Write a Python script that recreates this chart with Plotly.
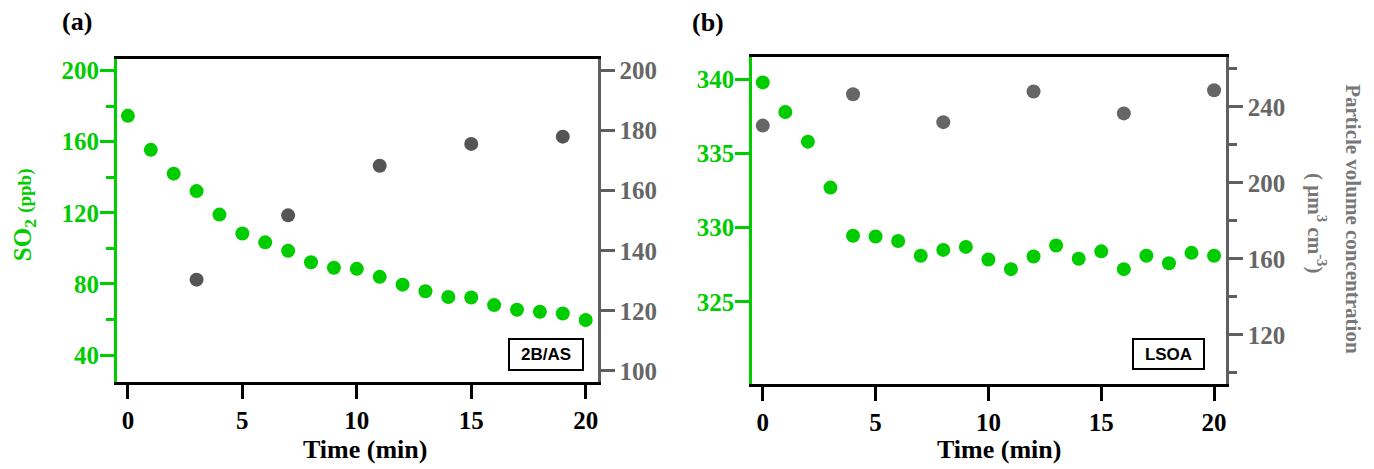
import plotly.graph_objects as go

# ---------------- data ----------------
time_a = list(range(21))
so2_a = [174.5, 155.4, 142.0, 132.2, 119.0, 108.4, 103.4, 98.7, 92.2, 89.1, 88.5,
         84.0, 79.6, 75.9, 72.7, 72.4, 68.1, 65.5, 64.4, 63.4, 59.7]
pv_time_a = [3, 7, 11, 15, 19]
pv_a = [130.4, 151.8, 168.3, 175.6, 178.0]

time_b = list(range(21))
so2_b = [339.8, 337.8, 335.8, 332.7, 329.45, 329.4, 329.1, 328.1, 328.5, 328.7, 327.85,
         327.2, 328.05, 328.8, 327.9, 328.4, 327.2, 328.1, 327.6, 328.3, 328.1]
pv_time_b = [0, 4, 8, 12, 16, 20]
pv_b = [230.1, 246.6, 231.9, 248.0, 236.5, 248.7]

x_ticks = [0, 5, 10, 15, 20]
left_ticks_a = [40, 80, 120, 160, 200]
right_ticks_a = [100, 120, 140, 160, 180, 200]
left_ticks_b = [325, 330, 335, 340]
right_ticks_b = [120, 160, 200, 240]

GREEN = "#00CC00"
GRAY_A = "#555555"
GRAY_B = "#666666"
AXGRAY = "#5f5f5f"
W, H = 1374, 469
OFF = 8  # page body margin
SERIF = "Liberation Serif"


def px(x):
    return (x - OFF) / W


def py(y):
    return (H - (y - OFF)) / H


def bold(vals):
    return ["<b>%s</b>" % v for v in vals]


fig = go.Figure()
fig.add_trace(go.Scatter(x=time_a, y=so2_a, mode="markers", xaxis="x", yaxis="y",
                         marker=dict(color=GREEN, size=14), showlegend=False))
fig.add_trace(go.Scatter(x=pv_time_a, y=pv_a, mode="markers", xaxis="x", yaxis="y2",
                         marker=dict(color=GRAY_A, size=14), showlegend=False))
fig.add_trace(go.Scatter(x=time_b, y=so2_b, mode="markers", xaxis="x2", yaxis="y3",
                         marker=dict(color=GREEN, size=14), showlegend=False))
fig.add_trace(go.Scatter(x=pv_time_b, y=pv_b, mode="markers", xaxis="x2", yaxis="y4",
                         marker=dict(color=GRAY_B, size=14), showlegend=False))

TS = 25
tickfont_black = dict(family=SERIF, size=TS, color="black")
tickfont_green = dict(family=SERIF, size=TS, color=GREEN)
tickfont_gray = dict(family=SERIF, size=TS, color="#666666")

xcommon = dict(showline=True, linecolor="black", linewidth=3, mirror=True,
               ticks="outside", ticklen=14, tickwidth=3, tickcolor="black",
               tickvals=x_ticks, ticktext=bold(x_ticks), tickfont=tickfont_black,
               showgrid=False, zeroline=False)

fig.update_layout(
    width=W, height=H, margin=dict(l=0, r=0, t=0, b=0),
    paper_bgcolor="white", plot_bgcolor="white",
    xaxis=dict(domain=[px(117), px(598)], range=[-0.48, 20.52], anchor="y", **xcommon),
    yaxis=dict(domain=[py(384), py(58)], range=[25, 206.7], anchor="x",
               showline=True, linecolor=GREEN, linewidth=3,
               ticks="outside", ticklen=14, tickwidth=3, tickcolor=GREEN,
               tickvals=left_ticks_a, ticktext=bold(left_ticks_a), tickfont=tickfont_green,
               showgrid=False, zeroline=False, ticklabelstandoff=-4,
               minor=dict(ticks="outside", ticklen=8, tickwidth=3, tickcolor=GREEN,
                          tickvals=[60, 100, 140, 180], showgrid=False)),
    yaxis2=dict(overlaying="y", side="right", anchor="x", range=[96.4, 204],
                showline=True, linecolor=AXGRAY, linewidth=3,
                ticks="outside", ticklen=14, tickwidth=3, tickcolor=AXGRAY,
                tickvals=right_ticks_a, ticktext=bold(right_ticks_a), tickfont=tickfont_gray,
                showgrid=False, zeroline=False),
    xaxis2=dict(domain=[px(752.7), px(1226.7)], range=[-0.47, 20.52], anchor="y3", **xcommon),
    yaxis3=dict(domain=[py(386.7), py(56)], range=[319.42, 341.54], anchor="x2",
                showline=True, linecolor=GREEN, linewidth=3,
                ticks="outside", ticklen=14, tickwidth=3, tickcolor=GREEN,
                tickvals=left_ticks_b, ticktext=bold(left_ticks_b), tickfont=tickfont_green,
                showgrid=False, zeroline=False, ticklabelstandoff=-4),
    yaxis4=dict(overlaying="y3", side="right", anchor="x2", range=[93.9, 266.4],
                showline=True, linecolor=AXGRAY, linewidth=3,
                ticks="outside", ticklen=14, tickwidth=3, tickcolor=AXGRAY,
                tickvals=right_ticks_b, ticktext=bold(right_ticks_b), tickfont=tickfont_gray,
                showgrid=False, zeroline=False,
                minor=dict(ticks="outside", ticklen=8, tickwidth=3, tickcolor=AXGRAY,
                           tickvals=[100, 140, 180, 220, 260], showgrid=False)),
)

ann = []


def add(text, x, y, size, color="black", family=SERIF, angle=0, **kw):
    ann.append(dict(text=text, x=px(x), y=py(y), xref="paper", yref="paper",
                    xanchor="center", yanchor="middle", textangle=angle,
                    showarrow=False, font=dict(family=family, size=size, color=color), **kw))


# panel labels
add("<b>(a)</b>", 77, 21, 26)
add("<b>(b)</b>", 709, 22, 26)
# x titles
add("<b>Time (min)</b>", 365, 452, 26)
add("<b>Time (min)</b>", 1000, 452, 26)
# left y title
add("<b>SO<sub>2</sub> <span style='font-size:19px'>(ppb)</span></b>", 24, 215, 25,
    color=GREEN, angle=-90)
# right y title (b)
add("<b>Particle volume concentration</b>", 1354, 220, 21, color="#777777", angle=90)
add("<b>( μm<sup>3</sup> cm<sup>-3</sup>)</b>", 1318, 224, 21, color="#777777", angle=90)
# boxes
add("<b>2B/AS</b>", 546, 356.5, 17, family="Liberation Sans",
    bordercolor="black", borderwidth=2, borderpad=1, width=70, height=27, bgcolor="white")
add("<b>LSOA</b>", 1169.5, 355.5, 17, family="Liberation Sans",
    bordercolor="black", borderwidth=2, borderpad=1, width=67, height=26, bgcolor="white")
fig.update_layout(annotations=ann)

fig.write_html("out.html")
